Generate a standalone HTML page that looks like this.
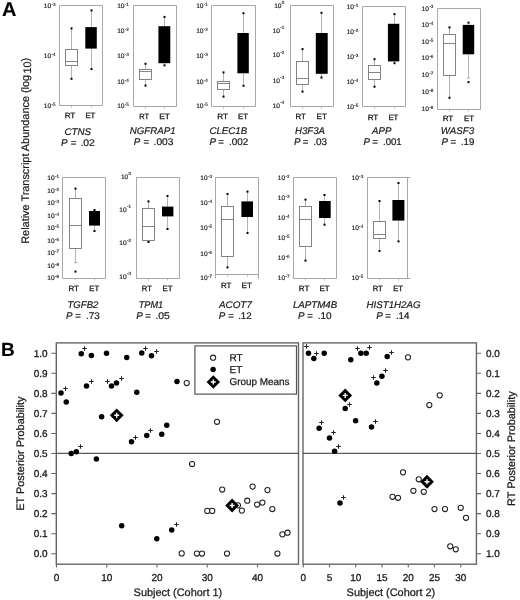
<!DOCTYPE html>
<html><head><meta charset="utf-8"><title>Figure</title>
<style>
html,body{margin:0;padding:0;background:#fff;}
body{width:520px;height:600px;overflow:hidden;}
svg{display:block;font-family:"Liberation Sans", sans-serif;text-rendering:geometricPrecision;filter:blur(0.45px);}
</style></head>
<body>
<svg width="520" height="600" viewBox="0 0 520 600">
<rect width="520" height="600" fill="#fff"/>
<path d="M59.50 105.50V5.50H102.50M102.50 5.50V105.50M59.50 105.50H102.50" fill="none" stroke="#a8a8a8" stroke-width="1"/>
<text x="43.77" y="7.90" font-size="6.6" text-anchor="start" fill="#1a1a1a" stroke="#1a1a1a" stroke-width="0.18">10</text>
<text x="51.41" y="5.80" font-size="4.6" text-anchor="start" fill="#1a1a1a" stroke="#1a1a1a" stroke-width="0.12">-3</text>
<text x="43.77" y="58.30" font-size="6.6" text-anchor="start" fill="#1a1a1a" stroke="#1a1a1a" stroke-width="0.18">10</text>
<text x="51.41" y="56.20" font-size="4.6" text-anchor="start" fill="#1a1a1a" stroke="#1a1a1a" stroke-width="0.12">-4</text>
<text x="43.77" y="108.30" font-size="6.6" text-anchor="start" fill="#1a1a1a" stroke="#1a1a1a" stroke-width="0.18">10</text>
<text x="51.41" y="106.20" font-size="4.6" text-anchor="start" fill="#1a1a1a" stroke="#1a1a1a" stroke-width="0.12">-5</text>
<path d="M71.50 105.50v2" stroke="#a8a8a8" stroke-width="0.8"/>
<path d="M91.50 105.50v2" stroke="#a8a8a8" stroke-width="0.8"/>
<path d="M71.50 28.40V49.50M71.50 65.50V78.80" stroke="#999999" stroke-width="0.75"/>
<rect x="65.50" y="49.50" width="12.00" height="16.00" fill="#fff" stroke="#777777" stroke-width="0.9"/>
<path d="M65.50 61.50H77.50" stroke="#777777" stroke-width="0.9"/>
<rect x="70.50" y="27.40" width="2.0" height="2.0" fill="#000"/>
<rect x="70.50" y="77.80" width="2.0" height="2.0" fill="#000"/>
<path d="M91.50 10.40V27.10M91.50 48.60V69.10" stroke="#999999" stroke-width="0.75"/>
<rect x="85.30" y="27.10" width="11.50" height="21.50" fill="#000"/>
<rect x="90.50" y="9.40" width="2.0" height="2.0" fill="#000"/>
<rect x="90.50" y="68.10" width="2.0" height="2.0" fill="#000"/>
<text x="64.70" y="118.20" font-size="7.6" text-anchor="start" fill="#1a1a1a" stroke="#1a1a1a" stroke-width="0.3" textLength="10.60" lengthAdjust="spacingAndGlyphs">RT</text>
<text x="85.40" y="118.20" font-size="7.6" text-anchor="start" fill="#1a1a1a" stroke="#1a1a1a" stroke-width="0.3" textLength="9.90" lengthAdjust="spacingAndGlyphs">ET</text>
<text x="64.40" y="135.30" font-size="9.7" font-style="italic" text-anchor="start" fill="#1a1a1a" stroke="#1a1a1a" stroke-width="0.2" textLength="26.60" lengthAdjust="spacingAndGlyphs">CTNS</text>
<text x="60.90" y="146.30" font-size="9.7" font-style="italic" text-anchor="start" fill="#1a1a1a" stroke="#1a1a1a" stroke-width="0.2">P</text>
<text x="70.80" y="146.30" font-size="9.7" text-anchor="start" fill="#1a1a1a" stroke="#1a1a1a" stroke-width="0.2">=</text>
<text x="80.40" y="146.30" font-size="9.7" text-anchor="start" fill="#1a1a1a" stroke="#1a1a1a" stroke-width="0.2" textLength="14.40" lengthAdjust="spacingAndGlyphs">.02</text>
<path d="M133.50 106.50V5.50H176.50M176.50 5.50V106.50M133.50 106.50H176.50" fill="none" stroke="#a8a8a8" stroke-width="1"/>
<text x="117.17" y="7.90" font-size="6.6" text-anchor="start" fill="#1a1a1a" stroke="#1a1a1a" stroke-width="0.18">10</text>
<text x="124.81" y="5.80" font-size="4.6" text-anchor="start" fill="#1a1a1a" stroke="#1a1a1a" stroke-width="0.12">-1</text>
<text x="117.17" y="32.60" font-size="6.6" text-anchor="start" fill="#1a1a1a" stroke="#1a1a1a" stroke-width="0.18">10</text>
<text x="124.81" y="30.50" font-size="4.6" text-anchor="start" fill="#1a1a1a" stroke="#1a1a1a" stroke-width="0.12">-2</text>
<text x="117.17" y="58.30" font-size="6.6" text-anchor="start" fill="#1a1a1a" stroke="#1a1a1a" stroke-width="0.18">10</text>
<text x="124.81" y="56.20" font-size="4.6" text-anchor="start" fill="#1a1a1a" stroke="#1a1a1a" stroke-width="0.12">-3</text>
<text x="117.17" y="83.90" font-size="6.6" text-anchor="start" fill="#1a1a1a" stroke="#1a1a1a" stroke-width="0.18">10</text>
<text x="124.81" y="81.80" font-size="4.6" text-anchor="start" fill="#1a1a1a" stroke="#1a1a1a" stroke-width="0.12">-4</text>
<text x="117.17" y="108.40" font-size="6.6" text-anchor="start" fill="#1a1a1a" stroke="#1a1a1a" stroke-width="0.18">10</text>
<text x="124.81" y="106.30" font-size="4.6" text-anchor="start" fill="#1a1a1a" stroke="#1a1a1a" stroke-width="0.12">-5</text>
<path d="M145.50 106.50v2" stroke="#a8a8a8" stroke-width="0.8"/>
<path d="M164.50 106.50v2" stroke="#a8a8a8" stroke-width="0.8"/>
<path d="M145.50 63.80V69.50M145.50 79.50V85.60" stroke="#999999" stroke-width="0.75"/>
<rect x="139.50" y="69.50" width="12.00" height="10.00" fill="#fff" stroke="#777777" stroke-width="0.9"/>
<path d="M139.50 71.50H151.50" stroke="#777777" stroke-width="0.9"/>
<rect x="144.50" y="62.80" width="2.0" height="2.0" fill="#000"/>
<rect x="144.50" y="84.60" width="2.0" height="2.0" fill="#000"/>
<path d="M164.50 16.90V26.20M164.50 63.20V65.40" stroke="#999999" stroke-width="0.75"/>
<rect x="158.40" y="26.20" width="11.90" height="37.00" fill="#000"/>
<rect x="163.50" y="15.90" width="2.0" height="2.0" fill="#000"/>
<rect x="163.50" y="64.40" width="2.0" height="2.0" fill="#000"/>
<text x="139.30" y="118.80" font-size="7.6" text-anchor="start" fill="#1a1a1a" stroke="#1a1a1a" stroke-width="0.3" textLength="9.80" lengthAdjust="spacingAndGlyphs">RT</text>
<text x="159.20" y="118.80" font-size="7.6" text-anchor="start" fill="#1a1a1a" stroke="#1a1a1a" stroke-width="0.3" textLength="10.70" lengthAdjust="spacingAndGlyphs">ET</text>
<text x="129.80" y="133.60" font-size="9.7" font-style="italic" text-anchor="start" fill="#1a1a1a" stroke="#1a1a1a" stroke-width="0.2" textLength="45.80" lengthAdjust="spacingAndGlyphs">NGFRAP1</text>
<text x="133.70" y="144.80" font-size="9.7" font-style="italic" text-anchor="start" fill="#1a1a1a" stroke="#1a1a1a" stroke-width="0.2">P</text>
<text x="143.50" y="144.80" font-size="9.7" text-anchor="start" fill="#1a1a1a" stroke="#1a1a1a" stroke-width="0.2">=</text>
<text x="153.60" y="144.80" font-size="9.7" text-anchor="start" fill="#1a1a1a" stroke="#1a1a1a" stroke-width="0.2" textLength="19.70" lengthAdjust="spacingAndGlyphs">.003</text>
<path d="M211.50 106.50V5.50H255.50M255.50 5.50V106.50M211.50 106.50H255.50" fill="none" stroke="#a8a8a8" stroke-width="1"/>
<text x="196.17" y="7.90" font-size="6.6" text-anchor="start" fill="#1a1a1a" stroke="#1a1a1a" stroke-width="0.18">10</text>
<text x="203.81" y="5.80" font-size="4.6" text-anchor="start" fill="#1a1a1a" stroke="#1a1a1a" stroke-width="0.12">-1</text>
<text x="196.17" y="33.20" font-size="6.6" text-anchor="start" fill="#1a1a1a" stroke="#1a1a1a" stroke-width="0.18">10</text>
<text x="203.81" y="31.10" font-size="4.6" text-anchor="start" fill="#1a1a1a" stroke="#1a1a1a" stroke-width="0.12">-2</text>
<text x="196.17" y="58.30" font-size="6.6" text-anchor="start" fill="#1a1a1a" stroke="#1a1a1a" stroke-width="0.18">10</text>
<text x="203.81" y="56.20" font-size="4.6" text-anchor="start" fill="#1a1a1a" stroke="#1a1a1a" stroke-width="0.12">-3</text>
<text x="196.17" y="83.90" font-size="6.6" text-anchor="start" fill="#1a1a1a" stroke="#1a1a1a" stroke-width="0.18">10</text>
<text x="203.81" y="81.80" font-size="4.6" text-anchor="start" fill="#1a1a1a" stroke="#1a1a1a" stroke-width="0.12">-4</text>
<text x="196.17" y="108.40" font-size="6.6" text-anchor="start" fill="#1a1a1a" stroke="#1a1a1a" stroke-width="0.18">10</text>
<text x="203.81" y="106.30" font-size="4.6" text-anchor="start" fill="#1a1a1a" stroke="#1a1a1a" stroke-width="0.12">-5</text>
<path d="M223.50 106.50v2" stroke="#a8a8a8" stroke-width="0.8"/>
<path d="M243.50 106.50v2" stroke="#a8a8a8" stroke-width="0.8"/>
<path d="M223.50 72.40V81.50M223.50 89.50V96.60" stroke="#999999" stroke-width="0.75"/>
<rect x="217.50" y="81.50" width="12.00" height="8.00" fill="#fff" stroke="#777777" stroke-width="0.9"/>
<path d="M217.50 83.50H229.50" stroke="#777777" stroke-width="0.9"/>
<rect x="222.50" y="71.40" width="2.0" height="2.0" fill="#000"/>
<rect x="222.50" y="95.60" width="2.0" height="2.0" fill="#000"/>
<path d="M243.50 13.20V33.00M243.50 73.30V85.80" stroke="#999999" stroke-width="0.75"/>
<rect x="237.40" y="33.00" width="11.40" height="40.30" fill="#000"/>
<rect x="242.50" y="12.20" width="2.0" height="2.0" fill="#000"/>
<rect x="242.50" y="84.80" width="2.0" height="2.0" fill="#000"/>
<text x="217.20" y="118.80" font-size="7.6" text-anchor="start" fill="#1a1a1a" stroke="#1a1a1a" stroke-width="0.3" textLength="10.70" lengthAdjust="spacingAndGlyphs">RT</text>
<text x="238.00" y="118.80" font-size="7.6" text-anchor="start" fill="#1a1a1a" stroke="#1a1a1a" stroke-width="0.3" textLength="10.10" lengthAdjust="spacingAndGlyphs">ET</text>
<text x="209.40" y="133.60" font-size="9.7" font-style="italic" text-anchor="start" fill="#1a1a1a" stroke="#1a1a1a" stroke-width="0.2" textLength="37.90" lengthAdjust="spacingAndGlyphs">CLEC1B</text>
<text x="209.50" y="144.80" font-size="9.7" font-style="italic" text-anchor="start" fill="#1a1a1a" stroke="#1a1a1a" stroke-width="0.2">P</text>
<text x="218.30" y="144.80" font-size="9.7" text-anchor="start" fill="#1a1a1a" stroke="#1a1a1a" stroke-width="0.2">=</text>
<text x="229.00" y="144.80" font-size="9.7" text-anchor="start" fill="#1a1a1a" stroke="#1a1a1a" stroke-width="0.2" textLength="19.30" lengthAdjust="spacingAndGlyphs">.002</text>
<path d="M290.50 106.50V5.50H333.50M333.50 5.50V106.50M290.50 106.50H333.50" fill="none" stroke="#a8a8a8" stroke-width="1"/>
<text x="274.20" y="7.90" font-size="6.6" text-anchor="start" fill="#1a1a1a" stroke="#1a1a1a" stroke-width="0.18">10</text>
<text x="281.84" y="4.20" font-size="4.6" text-anchor="start" fill="#1a1a1a" stroke="#1a1a1a" stroke-width="0.12">0</text>
<text x="272.67" y="32.60" font-size="6.6" text-anchor="start" fill="#1a1a1a" stroke="#1a1a1a" stroke-width="0.18">10</text>
<text x="280.31" y="28.90" font-size="4.6" text-anchor="start" fill="#1a1a1a" stroke="#1a1a1a" stroke-width="0.12">-1</text>
<text x="272.67" y="57.40" font-size="6.6" text-anchor="start" fill="#1a1a1a" stroke="#1a1a1a" stroke-width="0.18">10</text>
<text x="280.31" y="53.70" font-size="4.6" text-anchor="start" fill="#1a1a1a" stroke="#1a1a1a" stroke-width="0.12">-2</text>
<text x="272.67" y="83.00" font-size="6.6" text-anchor="start" fill="#1a1a1a" stroke="#1a1a1a" stroke-width="0.18">10</text>
<text x="280.31" y="79.30" font-size="4.6" text-anchor="start" fill="#1a1a1a" stroke="#1a1a1a" stroke-width="0.12">-3</text>
<text x="272.67" y="107.80" font-size="6.6" text-anchor="start" fill="#1a1a1a" stroke="#1a1a1a" stroke-width="0.18">10</text>
<text x="280.31" y="104.10" font-size="4.6" text-anchor="start" fill="#1a1a1a" stroke="#1a1a1a" stroke-width="0.12">-4</text>
<path d="M302.50 106.50v2" stroke="#a8a8a8" stroke-width="0.8"/>
<path d="M321.50 106.50v2" stroke="#a8a8a8" stroke-width="0.8"/>
<path d="M302.50 49.10V61.50M302.50 84.50V91.60" stroke="#999999" stroke-width="0.75"/>
<rect x="296.50" y="61.50" width="12.00" height="23.00" fill="#fff" stroke="#777777" stroke-width="0.9"/>
<path d="M296.50 78.50H308.50" stroke="#777777" stroke-width="0.9"/>
<rect x="301.50" y="48.10" width="2.0" height="2.0" fill="#000"/>
<rect x="301.50" y="90.60" width="2.0" height="2.0" fill="#000"/>
<path d="M321.50 12.80V33.00M321.50 73.80V77.50" stroke="#999999" stroke-width="0.75"/>
<rect x="315.80" y="33.00" width="11.90" height="40.80" fill="#000"/>
<rect x="320.50" y="11.80" width="2.0" height="2.0" fill="#000"/>
<rect x="320.50" y="76.50" width="2.0" height="2.0" fill="#000"/>
<text x="295.60" y="118.70" font-size="7.6" text-anchor="start" fill="#1a1a1a" stroke="#1a1a1a" stroke-width="0.3" textLength="10.30" lengthAdjust="spacingAndGlyphs">RT</text>
<text x="316.60" y="118.70" font-size="7.6" text-anchor="start" fill="#1a1a1a" stroke="#1a1a1a" stroke-width="0.3" textLength="10.40" lengthAdjust="spacingAndGlyphs">ET</text>
<text x="295.10" y="133.60" font-size="9.7" font-style="italic" text-anchor="start" fill="#1a1a1a" stroke="#1a1a1a" stroke-width="0.2" textLength="29.90" lengthAdjust="spacingAndGlyphs">H3F3A</text>
<text x="294.10" y="144.80" font-size="9.7" font-style="italic" text-anchor="start" fill="#1a1a1a" stroke="#1a1a1a" stroke-width="0.2">P</text>
<text x="302.80" y="144.80" font-size="9.7" text-anchor="start" fill="#1a1a1a" stroke="#1a1a1a" stroke-width="0.2">=</text>
<text x="313.20" y="144.80" font-size="9.7" text-anchor="start" fill="#1a1a1a" stroke="#1a1a1a" stroke-width="0.2" textLength="13.90" lengthAdjust="spacingAndGlyphs">.03</text>
<path d="M362.50 106.50V6.50H405.50M405.50 6.50V106.50M362.50 106.50H405.50" fill="none" stroke="#a8a8a8" stroke-width="1"/>
<text x="346.67" y="8.80" font-size="6.6" text-anchor="start" fill="#1a1a1a" stroke="#1a1a1a" stroke-width="0.18">10</text>
<text x="354.31" y="6.70" font-size="4.6" text-anchor="start" fill="#1a1a1a" stroke="#1a1a1a" stroke-width="0.12">-1</text>
<text x="346.67" y="33.60" font-size="6.6" text-anchor="start" fill="#1a1a1a" stroke="#1a1a1a" stroke-width="0.18">10</text>
<text x="354.31" y="31.50" font-size="4.6" text-anchor="start" fill="#1a1a1a" stroke="#1a1a1a" stroke-width="0.12">-2</text>
<text x="346.67" y="58.80" font-size="6.6" text-anchor="start" fill="#1a1a1a" stroke="#1a1a1a" stroke-width="0.18">10</text>
<text x="354.31" y="56.70" font-size="4.6" text-anchor="start" fill="#1a1a1a" stroke="#1a1a1a" stroke-width="0.12">-3</text>
<text x="346.67" y="84.30" font-size="6.6" text-anchor="start" fill="#1a1a1a" stroke="#1a1a1a" stroke-width="0.18">10</text>
<text x="354.31" y="82.20" font-size="4.6" text-anchor="start" fill="#1a1a1a" stroke="#1a1a1a" stroke-width="0.12">-4</text>
<text x="346.67" y="108.90" font-size="6.6" text-anchor="start" fill="#1a1a1a" stroke="#1a1a1a" stroke-width="0.18">10</text>
<text x="354.31" y="106.80" font-size="4.6" text-anchor="start" fill="#1a1a1a" stroke="#1a1a1a" stroke-width="0.12">-5</text>
<path d="M374.50 106.50v2" stroke="#a8a8a8" stroke-width="0.8"/>
<path d="M394.50 106.50v2" stroke="#a8a8a8" stroke-width="0.8"/>
<path d="M374.50 59.20V65.50M374.50 79.50V86.70" stroke="#999999" stroke-width="0.75"/>
<rect x="368.50" y="65.50" width="12.00" height="14.00" fill="#fff" stroke="#777777" stroke-width="0.9"/>
<path d="M368.50 72.50H380.50" stroke="#777777" stroke-width="0.9"/>
<rect x="373.50" y="58.20" width="2.0" height="2.0" fill="#000"/>
<rect x="373.50" y="85.70" width="2.0" height="2.0" fill="#000"/>
<path d="M394.50 14.10V23.80M394.50 61.40V63.20" stroke="#999999" stroke-width="0.75"/>
<rect x="387.90" y="23.80" width="11.40" height="37.60" fill="#000"/>
<rect x="393.50" y="13.10" width="2.0" height="2.0" fill="#000"/>
<rect x="393.50" y="62.20" width="2.0" height="2.0" fill="#000"/>
<text x="367.70" y="119.50" font-size="7.6" text-anchor="start" fill="#1a1a1a" stroke="#1a1a1a" stroke-width="0.3" textLength="10.60" lengthAdjust="spacingAndGlyphs">RT</text>
<text x="388.45" y="119.50" font-size="7.6" text-anchor="start" fill="#1a1a1a" stroke="#1a1a1a" stroke-width="0.3" textLength="9.85" lengthAdjust="spacingAndGlyphs">ET</text>
<text x="372.10" y="133.60" font-size="9.7" font-style="italic" text-anchor="start" fill="#1a1a1a" stroke="#1a1a1a" stroke-width="0.2" textLength="19.20" lengthAdjust="spacingAndGlyphs">APP</text>
<text x="363.50" y="144.80" font-size="9.7" font-style="italic" text-anchor="start" fill="#1a1a1a" stroke="#1a1a1a" stroke-width="0.2">P</text>
<text x="372.30" y="144.80" font-size="9.7" text-anchor="start" fill="#1a1a1a" stroke="#1a1a1a" stroke-width="0.2">=</text>
<text x="383.00" y="144.80" font-size="9.7" text-anchor="start" fill="#1a1a1a" stroke="#1a1a1a" stroke-width="0.2" textLength="18.70" lengthAdjust="spacingAndGlyphs">.001</text>
<path d="M437.50 109.50V8.50H480.50M480.50 8.50V109.50M437.50 109.50H480.50" fill="none" stroke="#a8a8a8" stroke-width="1"/>
<text x="421.57" y="10.50" font-size="6.6" text-anchor="start" fill="#1a1a1a" stroke="#1a1a1a" stroke-width="0.18">10</text>
<text x="429.21" y="8.40" font-size="4.6" text-anchor="start" fill="#1a1a1a" stroke="#1a1a1a" stroke-width="0.12">-3</text>
<text x="421.57" y="26.90" font-size="6.6" text-anchor="start" fill="#1a1a1a" stroke="#1a1a1a" stroke-width="0.18">10</text>
<text x="429.21" y="24.80" font-size="4.6" text-anchor="start" fill="#1a1a1a" stroke="#1a1a1a" stroke-width="0.12">-4</text>
<text x="421.57" y="43.60" font-size="6.6" text-anchor="start" fill="#1a1a1a" stroke="#1a1a1a" stroke-width="0.18">10</text>
<text x="429.21" y="41.50" font-size="4.6" text-anchor="start" fill="#1a1a1a" stroke="#1a1a1a" stroke-width="0.12">-5</text>
<text x="421.57" y="60.30" font-size="6.6" text-anchor="start" fill="#1a1a1a" stroke="#1a1a1a" stroke-width="0.18">10</text>
<text x="429.21" y="58.20" font-size="4.6" text-anchor="start" fill="#1a1a1a" stroke="#1a1a1a" stroke-width="0.12">-6</text>
<text x="421.57" y="77.20" font-size="6.6" text-anchor="start" fill="#1a1a1a" stroke="#1a1a1a" stroke-width="0.18">10</text>
<text x="429.21" y="75.10" font-size="4.6" text-anchor="start" fill="#1a1a1a" stroke="#1a1a1a" stroke-width="0.12">-7</text>
<text x="421.57" y="94.40" font-size="6.6" text-anchor="start" fill="#1a1a1a" stroke="#1a1a1a" stroke-width="0.18">10</text>
<text x="429.21" y="92.30" font-size="4.6" text-anchor="start" fill="#1a1a1a" stroke="#1a1a1a" stroke-width="0.12">-8</text>
<text x="421.57" y="111.40" font-size="6.6" text-anchor="start" fill="#1a1a1a" stroke="#1a1a1a" stroke-width="0.18">10</text>
<text x="429.21" y="109.30" font-size="4.6" text-anchor="start" fill="#1a1a1a" stroke="#1a1a1a" stroke-width="0.12">-9</text>
<path d="M449.50 109.50v2" stroke="#a8a8a8" stroke-width="0.8"/>
<path d="M468.50 109.50v2" stroke="#a8a8a8" stroke-width="0.8"/>
<path d="M449.50 27.40V34.50M449.50 75.50V97.80" stroke="#999999" stroke-width="0.75"/>
<rect x="443.50" y="34.50" width="12.00" height="41.00" fill="#fff" stroke="#777777" stroke-width="0.9"/>
<path d="M443.50 43.50H455.50" stroke="#777777" stroke-width="0.9"/>
<rect x="448.50" y="26.40" width="2.0" height="2.0" fill="#000"/>
<rect x="448.50" y="96.80" width="2.0" height="2.0" fill="#000"/>
<path d="M468.50 22.60V24.90M468.50 54.30V78.20" stroke="#999999" stroke-width="0.75"/>
<rect x="462.70" y="24.90" width="11.50" height="29.40" fill="#000"/>
<path d="M467.00 78.20h3" stroke="#999999" stroke-width="0.8"/>
<rect x="467.50" y="21.60" width="2.0" height="2.0" fill="#000"/>
<rect x="467.50" y="81.10" width="2.0" height="2.0" fill="#000"/>
<text x="442.70" y="121.25" font-size="7.6" text-anchor="start" fill="#1a1a1a" stroke="#1a1a1a" stroke-width="0.3" textLength="10.60" lengthAdjust="spacingAndGlyphs">RT</text>
<text x="463.95" y="121.25" font-size="7.6" text-anchor="start" fill="#1a1a1a" stroke="#1a1a1a" stroke-width="0.3" textLength="10.10" lengthAdjust="spacingAndGlyphs">ET</text>
<text x="440.80" y="133.60" font-size="9.7" font-style="italic" text-anchor="start" fill="#1a1a1a" stroke="#1a1a1a" stroke-width="0.2" textLength="33.40" lengthAdjust="spacingAndGlyphs">WASF3</text>
<text x="441.40" y="144.80" font-size="9.7" font-style="italic" text-anchor="start" fill="#1a1a1a" stroke="#1a1a1a" stroke-width="0.2">P</text>
<text x="450.50" y="144.80" font-size="9.7" text-anchor="start" fill="#1a1a1a" stroke="#1a1a1a" stroke-width="0.2">=</text>
<text x="460.90" y="144.80" font-size="9.7" text-anchor="start" fill="#1a1a1a" stroke="#1a1a1a" stroke-width="0.2" textLength="13.50" lengthAdjust="spacingAndGlyphs">.19</text>
<path d="M62.50 278.50V177.50H105.50M105.50 177.50V278.50M62.50 278.50H105.50" fill="none" stroke="#a8a8a8" stroke-width="1"/>
<text x="47.27" y="180.40" font-size="6.6" text-anchor="start" fill="#1a1a1a" stroke="#1a1a1a" stroke-width="0.18">10</text>
<text x="54.91" y="178.30" font-size="4.6" text-anchor="start" fill="#1a1a1a" stroke="#1a1a1a" stroke-width="0.12">-1</text>
<text x="47.27" y="192.90" font-size="6.6" text-anchor="start" fill="#1a1a1a" stroke="#1a1a1a" stroke-width="0.18">10</text>
<text x="54.91" y="190.80" font-size="4.6" text-anchor="start" fill="#1a1a1a" stroke="#1a1a1a" stroke-width="0.12">-2</text>
<text x="47.27" y="205.40" font-size="6.6" text-anchor="start" fill="#1a1a1a" stroke="#1a1a1a" stroke-width="0.18">10</text>
<text x="54.91" y="203.30" font-size="4.6" text-anchor="start" fill="#1a1a1a" stroke="#1a1a1a" stroke-width="0.12">-3</text>
<text x="47.27" y="217.90" font-size="6.6" text-anchor="start" fill="#1a1a1a" stroke="#1a1a1a" stroke-width="0.18">10</text>
<text x="54.91" y="215.80" font-size="4.6" text-anchor="start" fill="#1a1a1a" stroke="#1a1a1a" stroke-width="0.12">-4</text>
<text x="47.27" y="230.40" font-size="6.6" text-anchor="start" fill="#1a1a1a" stroke="#1a1a1a" stroke-width="0.18">10</text>
<text x="54.91" y="228.30" font-size="4.6" text-anchor="start" fill="#1a1a1a" stroke="#1a1a1a" stroke-width="0.12">-5</text>
<text x="47.27" y="242.90" font-size="6.6" text-anchor="start" fill="#1a1a1a" stroke="#1a1a1a" stroke-width="0.18">10</text>
<text x="54.91" y="240.80" font-size="4.6" text-anchor="start" fill="#1a1a1a" stroke="#1a1a1a" stroke-width="0.12">-6</text>
<text x="47.27" y="255.40" font-size="6.6" text-anchor="start" fill="#1a1a1a" stroke="#1a1a1a" stroke-width="0.18">10</text>
<text x="54.91" y="253.30" font-size="4.6" text-anchor="start" fill="#1a1a1a" stroke="#1a1a1a" stroke-width="0.12">-7</text>
<text x="47.27" y="267.90" font-size="6.6" text-anchor="start" fill="#1a1a1a" stroke="#1a1a1a" stroke-width="0.18">10</text>
<text x="54.91" y="265.80" font-size="4.6" text-anchor="start" fill="#1a1a1a" stroke="#1a1a1a" stroke-width="0.12">-8</text>
<text x="47.27" y="280.40" font-size="6.6" text-anchor="start" fill="#1a1a1a" stroke="#1a1a1a" stroke-width="0.18">10</text>
<text x="54.91" y="278.30" font-size="4.6" text-anchor="start" fill="#1a1a1a" stroke="#1a1a1a" stroke-width="0.12">-9</text>
<path d="M75.50 278.50v2" stroke="#a8a8a8" stroke-width="0.8"/>
<path d="M94.50 278.50v2" stroke="#a8a8a8" stroke-width="0.8"/>
<path d="M75.50 188.60V198.50M75.50 248.50V262.60" stroke="#999999" stroke-width="0.75"/>
<rect x="69.50" y="198.50" width="12.00" height="50.00" fill="#fff" stroke="#777777" stroke-width="0.9"/>
<path d="M69.50 225.50H81.50" stroke="#777777" stroke-width="0.9"/>
<path d="M74.00 262.60h3" stroke="#999999" stroke-width="0.8"/>
<rect x="74.50" y="187.60" width="2.0" height="2.0" fill="#000"/>
<rect x="74.50" y="270.60" width="2.0" height="2.0" fill="#000"/>
<path d="M94.50 210.00V211.00M94.50 225.60V231.00" stroke="#999999" stroke-width="0.75"/>
<rect x="89.00" y="211.00" width="11.00" height="14.60" fill="#000"/>
<rect x="93.50" y="209.00" width="2.0" height="2.0" fill="#000"/>
<rect x="93.50" y="230.00" width="2.0" height="2.0" fill="#000"/>
<text x="68.50" y="291.00" font-size="7.6" text-anchor="start" fill="#1a1a1a" stroke="#1a1a1a" stroke-width="0.3" textLength="10.50" lengthAdjust="spacingAndGlyphs">RT</text>
<text x="89.30" y="291.00" font-size="7.6" text-anchor="start" fill="#1a1a1a" stroke="#1a1a1a" stroke-width="0.3" textLength="9.80" lengthAdjust="spacingAndGlyphs">ET</text>
<text x="67.50" y="308.00" font-size="9.7" font-style="italic" text-anchor="start" fill="#1a1a1a" stroke="#1a1a1a" stroke-width="0.2" textLength="30.90" lengthAdjust="spacingAndGlyphs">TGFB2</text>
<text x="65.90" y="319.00" font-size="9.7" font-style="italic" text-anchor="start" fill="#1a1a1a" stroke="#1a1a1a" stroke-width="0.2">P</text>
<text x="75.30" y="319.00" font-size="9.7" text-anchor="start" fill="#1a1a1a" stroke="#1a1a1a" stroke-width="0.2">=</text>
<text x="85.90" y="319.00" font-size="9.7" text-anchor="start" fill="#1a1a1a" stroke="#1a1a1a" stroke-width="0.2" textLength="13.90" lengthAdjust="spacingAndGlyphs">.73</text>
<path d="M136.50 278.50V177.50H179.50M179.50 177.50V278.50M136.50 278.50H179.50" fill="none" stroke="#a8a8a8" stroke-width="1"/>
<text x="120.90" y="178.90" font-size="6.6" text-anchor="start" fill="#1a1a1a" stroke="#1a1a1a" stroke-width="0.18">10</text>
<text x="128.54" y="175.20" font-size="4.6" text-anchor="start" fill="#1a1a1a" stroke="#1a1a1a" stroke-width="0.12">0</text>
<text x="119.37" y="211.90" font-size="6.6" text-anchor="start" fill="#1a1a1a" stroke="#1a1a1a" stroke-width="0.18">10</text>
<text x="127.01" y="208.20" font-size="4.6" text-anchor="start" fill="#1a1a1a" stroke="#1a1a1a" stroke-width="0.12">-1</text>
<text x="119.37" y="245.40" font-size="6.6" text-anchor="start" fill="#1a1a1a" stroke="#1a1a1a" stroke-width="0.18">10</text>
<text x="127.01" y="241.70" font-size="4.6" text-anchor="start" fill="#1a1a1a" stroke="#1a1a1a" stroke-width="0.12">-2</text>
<text x="119.37" y="278.90" font-size="6.6" text-anchor="start" fill="#1a1a1a" stroke="#1a1a1a" stroke-width="0.18">10</text>
<text x="127.01" y="275.20" font-size="4.6" text-anchor="start" fill="#1a1a1a" stroke="#1a1a1a" stroke-width="0.12">-3</text>
<path d="M148.50 278.50v2" stroke="#a8a8a8" stroke-width="0.8"/>
<path d="M167.50 278.50v2" stroke="#a8a8a8" stroke-width="0.8"/>
<path d="M148.50 201.40V208.50M148.50 240.50V242.00" stroke="#999999" stroke-width="0.75"/>
<rect x="142.50" y="208.50" width="12.00" height="32.00" fill="#fff" stroke="#777777" stroke-width="0.9"/>
<path d="M142.50 226.50H154.50" stroke="#777777" stroke-width="0.9"/>
<rect x="147.50" y="200.40" width="2.0" height="2.0" fill="#000"/>
<rect x="147.50" y="241.00" width="2.0" height="2.0" fill="#000"/>
<path d="M167.50 196.00V206.60M167.50 216.40V229.00" stroke="#999999" stroke-width="0.75"/>
<rect x="162.00" y="206.60" width="11.40" height="9.80" fill="#000"/>
<rect x="166.50" y="195.00" width="2.0" height="2.0" fill="#000"/>
<rect x="166.50" y="228.00" width="2.0" height="2.0" fill="#000"/>
<text x="141.80" y="290.60" font-size="7.6" text-anchor="start" fill="#1a1a1a" stroke="#1a1a1a" stroke-width="0.3" textLength="10.00" lengthAdjust="spacingAndGlyphs">RT</text>
<text x="162.50" y="290.60" font-size="7.6" text-anchor="start" fill="#1a1a1a" stroke="#1a1a1a" stroke-width="0.3" textLength="10.10" lengthAdjust="spacingAndGlyphs">ET</text>
<text x="138.70" y="307.70" font-size="9.7" font-style="italic" text-anchor="start" fill="#1a1a1a" stroke="#1a1a1a" stroke-width="0.2" textLength="24.50" lengthAdjust="spacingAndGlyphs">TPM1</text>
<text x="136.20" y="319.00" font-size="9.7" font-style="italic" text-anchor="start" fill="#1a1a1a" stroke="#1a1a1a" stroke-width="0.2">P</text>
<text x="145.30" y="319.00" font-size="9.7" text-anchor="start" fill="#1a1a1a" stroke="#1a1a1a" stroke-width="0.2">=</text>
<text x="155.40" y="319.00" font-size="9.7" text-anchor="start" fill="#1a1a1a" stroke="#1a1a1a" stroke-width="0.2" textLength="14.40" lengthAdjust="spacingAndGlyphs">.05</text>
<path d="M215.50 278.50V177.50H258.50M258.50 177.50V278.50M215.50 274.50H258.50" fill="none" stroke="#a8a8a8" stroke-width="1"/>
<text x="200.27" y="180.40" font-size="6.6" text-anchor="start" fill="#1a1a1a" stroke="#1a1a1a" stroke-width="0.18">10</text>
<text x="207.91" y="178.30" font-size="4.6" text-anchor="start" fill="#1a1a1a" stroke="#1a1a1a" stroke-width="0.12">-3</text>
<text x="200.27" y="205.40" font-size="6.6" text-anchor="start" fill="#1a1a1a" stroke="#1a1a1a" stroke-width="0.18">10</text>
<text x="207.91" y="203.30" font-size="4.6" text-anchor="start" fill="#1a1a1a" stroke="#1a1a1a" stroke-width="0.12">-4</text>
<text x="200.27" y="230.40" font-size="6.6" text-anchor="start" fill="#1a1a1a" stroke="#1a1a1a" stroke-width="0.18">10</text>
<text x="207.91" y="228.30" font-size="4.6" text-anchor="start" fill="#1a1a1a" stroke="#1a1a1a" stroke-width="0.12">-5</text>
<text x="200.27" y="256.00" font-size="6.6" text-anchor="start" fill="#1a1a1a" stroke="#1a1a1a" stroke-width="0.18">10</text>
<text x="207.91" y="253.90" font-size="4.6" text-anchor="start" fill="#1a1a1a" stroke="#1a1a1a" stroke-width="0.12">-6</text>
<text x="200.27" y="280.40" font-size="6.6" text-anchor="start" fill="#1a1a1a" stroke="#1a1a1a" stroke-width="0.18">10</text>
<text x="207.91" y="278.30" font-size="4.6" text-anchor="start" fill="#1a1a1a" stroke="#1a1a1a" stroke-width="0.12">-7</text>
<path d="M227.50 274.50v2" stroke="#a8a8a8" stroke-width="0.8"/>
<path d="M247.50 274.50v2" stroke="#a8a8a8" stroke-width="0.8"/>
<path d="M227.50 194.00V206.50M227.50 256.50V267.40" stroke="#999999" stroke-width="0.75"/>
<rect x="221.50" y="206.50" width="12.00" height="50.00" fill="#fff" stroke="#777777" stroke-width="0.9"/>
<path d="M221.50 219.50H233.50" stroke="#777777" stroke-width="0.9"/>
<rect x="226.50" y="193.00" width="2.0" height="2.0" fill="#000"/>
<rect x="226.50" y="266.40" width="2.0" height="2.0" fill="#000"/>
<path d="M247.50 191.60V201.40M247.50 217.00V233.00" stroke="#999999" stroke-width="0.75"/>
<rect x="241.40" y="201.40" width="11.60" height="15.60" fill="#000"/>
<rect x="246.50" y="190.60" width="2.0" height="2.0" fill="#000"/>
<rect x="246.50" y="232.00" width="2.0" height="2.0" fill="#000"/>
<text x="220.90" y="287.50" font-size="7.6" text-anchor="start" fill="#1a1a1a" stroke="#1a1a1a" stroke-width="0.3" textLength="10.40" lengthAdjust="spacingAndGlyphs">RT</text>
<text x="241.60" y="287.50" font-size="7.6" text-anchor="start" fill="#1a1a1a" stroke="#1a1a1a" stroke-width="0.3" textLength="10.40" lengthAdjust="spacingAndGlyphs">ET</text>
<text x="219.00" y="308.00" font-size="9.7" font-style="italic" text-anchor="start" fill="#1a1a1a" stroke="#1a1a1a" stroke-width="0.2" textLength="32.90" lengthAdjust="spacingAndGlyphs">ACOT7</text>
<text x="218.80" y="319.00" font-size="9.7" font-style="italic" text-anchor="start" fill="#1a1a1a" stroke="#1a1a1a" stroke-width="0.2">P</text>
<text x="228.20" y="319.00" font-size="9.7" text-anchor="start" fill="#1a1a1a" stroke="#1a1a1a" stroke-width="0.2">=</text>
<text x="238.20" y="319.00" font-size="9.7" text-anchor="start" fill="#1a1a1a" stroke="#1a1a1a" stroke-width="0.2" textLength="13.40" lengthAdjust="spacingAndGlyphs">.12</text>
<path d="M293.50 278.50V177.50H336.50M336.50 177.50V278.50M293.50 278.50H336.50" fill="none" stroke="#a8a8a8" stroke-width="1"/>
<text x="277.87" y="180.40" font-size="6.6" text-anchor="start" fill="#1a1a1a" stroke="#1a1a1a" stroke-width="0.18">10</text>
<text x="285.51" y="178.30" font-size="4.6" text-anchor="start" fill="#1a1a1a" stroke="#1a1a1a" stroke-width="0.12">-2</text>
<text x="277.87" y="200.40" font-size="6.6" text-anchor="start" fill="#1a1a1a" stroke="#1a1a1a" stroke-width="0.18">10</text>
<text x="285.51" y="198.30" font-size="4.6" text-anchor="start" fill="#1a1a1a" stroke="#1a1a1a" stroke-width="0.12">-3</text>
<text x="277.87" y="220.40" font-size="6.6" text-anchor="start" fill="#1a1a1a" stroke="#1a1a1a" stroke-width="0.18">10</text>
<text x="285.51" y="218.30" font-size="4.6" text-anchor="start" fill="#1a1a1a" stroke="#1a1a1a" stroke-width="0.12">-4</text>
<text x="277.87" y="240.40" font-size="6.6" text-anchor="start" fill="#1a1a1a" stroke="#1a1a1a" stroke-width="0.18">10</text>
<text x="285.51" y="238.30" font-size="4.6" text-anchor="start" fill="#1a1a1a" stroke="#1a1a1a" stroke-width="0.12">-5</text>
<text x="277.87" y="260.40" font-size="6.6" text-anchor="start" fill="#1a1a1a" stroke="#1a1a1a" stroke-width="0.18">10</text>
<text x="285.51" y="258.30" font-size="4.6" text-anchor="start" fill="#1a1a1a" stroke="#1a1a1a" stroke-width="0.12">-6</text>
<text x="277.87" y="280.40" font-size="6.6" text-anchor="start" fill="#1a1a1a" stroke="#1a1a1a" stroke-width="0.18">10</text>
<text x="285.51" y="278.30" font-size="4.6" text-anchor="start" fill="#1a1a1a" stroke="#1a1a1a" stroke-width="0.12">-7</text>
<path d="M305.50 278.50v2" stroke="#a8a8a8" stroke-width="0.8"/>
<path d="M324.50 278.50v2" stroke="#a8a8a8" stroke-width="0.8"/>
<path d="M305.50 199.60V206.50M305.50 246.50V260.60" stroke="#999999" stroke-width="0.75"/>
<rect x="299.50" y="206.50" width="12.00" height="40.00" fill="#fff" stroke="#777777" stroke-width="0.9"/>
<path d="M299.50 219.50H311.50" stroke="#777777" stroke-width="0.9"/>
<rect x="304.50" y="198.60" width="2.0" height="2.0" fill="#000"/>
<rect x="304.50" y="259.60" width="2.0" height="2.0" fill="#000"/>
<path d="M324.50 195.00V201.00M324.50 218.00V224.70" stroke="#999999" stroke-width="0.75"/>
<rect x="319.00" y="201.00" width="11.70" height="17.00" fill="#000"/>
<rect x="323.50" y="194.00" width="2.0" height="2.0" fill="#000"/>
<rect x="323.50" y="223.70" width="2.0" height="2.0" fill="#000"/>
<text x="298.80" y="291.00" font-size="7.6" text-anchor="start" fill="#1a1a1a" stroke="#1a1a1a" stroke-width="0.3" textLength="10.50" lengthAdjust="spacingAndGlyphs">RT</text>
<text x="319.50" y="291.00" font-size="7.6" text-anchor="start" fill="#1a1a1a" stroke="#1a1a1a" stroke-width="0.3" textLength="10.20" lengthAdjust="spacingAndGlyphs">ET</text>
<text x="292.90" y="307.70" font-size="9.7" font-style="italic" text-anchor="start" fill="#1a1a1a" stroke="#1a1a1a" stroke-width="0.2" textLength="44.40" lengthAdjust="spacingAndGlyphs">LAPTM4B</text>
<text x="298.00" y="319.00" font-size="9.7" font-style="italic" text-anchor="start" fill="#1a1a1a" stroke="#1a1a1a" stroke-width="0.2">P</text>
<text x="307.30" y="319.00" font-size="9.7" text-anchor="start" fill="#1a1a1a" stroke="#1a1a1a" stroke-width="0.2">=</text>
<text x="317.70" y="319.00" font-size="9.7" text-anchor="start" fill="#1a1a1a" stroke="#1a1a1a" stroke-width="0.2" textLength="13.90" lengthAdjust="spacingAndGlyphs">.10</text>
<path d="M367.50 278.50V177.50H410.30M407.50 177.50V278.50M367.50 278.50H410.30" fill="none" stroke="#a8a8a8" stroke-width="1"/>
<text x="351.47" y="180.40" font-size="6.6" text-anchor="start" fill="#1a1a1a" stroke="#1a1a1a" stroke-width="0.18">10</text>
<text x="359.11" y="178.30" font-size="4.6" text-anchor="start" fill="#1a1a1a" stroke="#1a1a1a" stroke-width="0.12">-3</text>
<text x="351.47" y="230.40" font-size="6.6" text-anchor="start" fill="#1a1a1a" stroke="#1a1a1a" stroke-width="0.18">10</text>
<text x="359.11" y="228.30" font-size="4.6" text-anchor="start" fill="#1a1a1a" stroke="#1a1a1a" stroke-width="0.12">-4</text>
<text x="351.47" y="280.40" font-size="6.6" text-anchor="start" fill="#1a1a1a" stroke="#1a1a1a" stroke-width="0.18">10</text>
<text x="359.11" y="278.30" font-size="4.6" text-anchor="start" fill="#1a1a1a" stroke="#1a1a1a" stroke-width="0.12">-5</text>
<path d="M379.50 278.50v2" stroke="#a8a8a8" stroke-width="0.8"/>
<path d="M398.50 278.50v2" stroke="#a8a8a8" stroke-width="0.8"/>
<path d="M379.50 201.00V221.50M379.50 238.50V251.00" stroke="#999999" stroke-width="0.75"/>
<rect x="373.50" y="221.50" width="12.00" height="17.00" fill="#fff" stroke="#777777" stroke-width="0.9"/>
<path d="M373.50 234.50H385.50" stroke="#777777" stroke-width="0.9"/>
<rect x="378.50" y="200.00" width="2.0" height="2.0" fill="#000"/>
<rect x="378.50" y="250.00" width="2.0" height="2.0" fill="#000"/>
<path d="M398.50 183.00V200.00M398.50 220.60V241.40" stroke="#999999" stroke-width="0.75"/>
<rect x="392.40" y="200.00" width="12.00" height="20.60" fill="#000"/>
<rect x="397.50" y="182.00" width="2.0" height="2.0" fill="#000"/>
<rect x="397.50" y="240.40" width="2.0" height="2.0" fill="#000"/>
<text x="372.70" y="291.00" font-size="7.6" text-anchor="start" fill="#1a1a1a" stroke="#1a1a1a" stroke-width="0.3" textLength="10.10" lengthAdjust="spacingAndGlyphs">RT</text>
<text x="393.20" y="291.00" font-size="7.6" text-anchor="start" fill="#1a1a1a" stroke="#1a1a1a" stroke-width="0.3" textLength="9.90" lengthAdjust="spacingAndGlyphs">ET</text>
<text x="366.50" y="307.70" font-size="9.7" font-style="italic" text-anchor="start" fill="#1a1a1a" stroke="#1a1a1a" stroke-width="0.2" textLength="54.10" lengthAdjust="spacingAndGlyphs">HIST1H2AG</text>
<text x="376.20" y="319.00" font-size="9.7" font-style="italic" text-anchor="start" fill="#1a1a1a" stroke="#1a1a1a" stroke-width="0.2">P</text>
<text x="385.20" y="319.00" font-size="9.7" text-anchor="start" fill="#1a1a1a" stroke="#1a1a1a" stroke-width="0.2">=</text>
<text x="395.90" y="319.00" font-size="9.7" text-anchor="start" fill="#1a1a1a" stroke="#1a1a1a" stroke-width="0.2" textLength="13.60" lengthAdjust="spacingAndGlyphs">.14</text>
<text x="2.00" y="16.10" font-size="20.0" font-weight="bold" text-anchor="start" fill="#000" stroke="#000" stroke-width="0.12">A</text>
<g transform="translate(29.0 243.77) rotate(-90)" font-size="10.9" fill="#1a1a1a" stroke="#1a1a1a" stroke-width="0.2"><text x="0" y="0">Relative Transcript Abundance (log</text><text x="170.25" y="2.3">10</text><text x="182.37" y="0">)</text></g>
<text x="1.00" y="356.20" font-size="19.0" font-weight="bold" text-anchor="start" fill="#000" stroke="#000" stroke-width="0.12">B</text>
<rect x="56.3" y="342.9" width="242.20" height="221.30" fill="none" stroke="#666666" stroke-width="1.4"/>
<rect x="303.0" y="342.9" width="173.40" height="221.30" fill="none" stroke="#666666" stroke-width="1.4"/>
<path d="M56.3 453.3H298.5M303.0 453.3H476.4" stroke="#333" stroke-width="1"/>
<path d="M51.30 553.75H56.3M476.4 553.75h4.6" stroke="#666666" stroke-width="1.1"/>
<text x="47.60" y="557.35" font-size="10" text-anchor="end" fill="#1a1a1a" stroke="#1a1a1a" stroke-width="0.3">0.0</text>
<text x="486.00" y="557.35" font-size="10" text-anchor="start" fill="#1a1a1a" stroke="#1a1a1a" stroke-width="0.3">1.0</text>
<path d="M51.30 533.70H56.3M476.4 533.70h4.6" stroke="#666666" stroke-width="1.1"/>
<text x="47.60" y="537.30" font-size="10" text-anchor="end" fill="#1a1a1a" stroke="#1a1a1a" stroke-width="0.3">0.1</text>
<text x="486.00" y="537.30" font-size="10" text-anchor="start" fill="#1a1a1a" stroke="#1a1a1a" stroke-width="0.3">0.9</text>
<path d="M51.30 513.65H56.3M476.4 513.65h4.6" stroke="#666666" stroke-width="1.1"/>
<text x="47.60" y="517.25" font-size="10" text-anchor="end" fill="#1a1a1a" stroke="#1a1a1a" stroke-width="0.3">0.2</text>
<text x="486.00" y="517.25" font-size="10" text-anchor="start" fill="#1a1a1a" stroke="#1a1a1a" stroke-width="0.3">0.8</text>
<path d="M51.30 493.60H56.3M476.4 493.60h4.6" stroke="#666666" stroke-width="1.1"/>
<text x="47.60" y="497.20" font-size="10" text-anchor="end" fill="#1a1a1a" stroke="#1a1a1a" stroke-width="0.3">0.3</text>
<text x="486.00" y="497.20" font-size="10" text-anchor="start" fill="#1a1a1a" stroke="#1a1a1a" stroke-width="0.3">0.7</text>
<path d="M51.30 473.55H56.3M476.4 473.55h4.6" stroke="#666666" stroke-width="1.1"/>
<text x="47.60" y="477.15" font-size="10" text-anchor="end" fill="#1a1a1a" stroke="#1a1a1a" stroke-width="0.3">0.4</text>
<text x="486.00" y="477.15" font-size="10" text-anchor="start" fill="#1a1a1a" stroke="#1a1a1a" stroke-width="0.3">0.6</text>
<path d="M51.30 453.50H56.3M476.4 453.50h4.6" stroke="#666666" stroke-width="1.1"/>
<text x="47.60" y="457.10" font-size="10" text-anchor="end" fill="#1a1a1a" stroke="#1a1a1a" stroke-width="0.3">0.5</text>
<text x="486.00" y="457.10" font-size="10" text-anchor="start" fill="#1a1a1a" stroke="#1a1a1a" stroke-width="0.3">0.5</text>
<path d="M51.30 433.45H56.3M476.4 433.45h4.6" stroke="#666666" stroke-width="1.1"/>
<text x="47.60" y="437.05" font-size="10" text-anchor="end" fill="#1a1a1a" stroke="#1a1a1a" stroke-width="0.3">0.6</text>
<text x="486.00" y="437.05" font-size="10" text-anchor="start" fill="#1a1a1a" stroke="#1a1a1a" stroke-width="0.3">0.4</text>
<path d="M51.30 413.40H56.3M476.4 413.40h4.6" stroke="#666666" stroke-width="1.1"/>
<text x="47.60" y="417.00" font-size="10" text-anchor="end" fill="#1a1a1a" stroke="#1a1a1a" stroke-width="0.3">0.7</text>
<text x="486.00" y="417.00" font-size="10" text-anchor="start" fill="#1a1a1a" stroke="#1a1a1a" stroke-width="0.3">0.3</text>
<path d="M51.30 393.35H56.3M476.4 393.35h4.6" stroke="#666666" stroke-width="1.1"/>
<text x="47.60" y="396.95" font-size="10" text-anchor="end" fill="#1a1a1a" stroke="#1a1a1a" stroke-width="0.3">0.8</text>
<text x="486.00" y="396.95" font-size="10" text-anchor="start" fill="#1a1a1a" stroke="#1a1a1a" stroke-width="0.3">0.2</text>
<path d="M51.30 373.30H56.3M476.4 373.30h4.6" stroke="#666666" stroke-width="1.1"/>
<text x="47.60" y="376.90" font-size="10" text-anchor="end" fill="#1a1a1a" stroke="#1a1a1a" stroke-width="0.3">0.9</text>
<text x="486.00" y="376.90" font-size="10" text-anchor="start" fill="#1a1a1a" stroke="#1a1a1a" stroke-width="0.3">0.1</text>
<path d="M51.30 353.25H56.3M476.4 353.25h4.6" stroke="#666666" stroke-width="1.1"/>
<text x="47.60" y="356.85" font-size="10" text-anchor="end" fill="#1a1a1a" stroke="#1a1a1a" stroke-width="0.3">1.0</text>
<text x="486.00" y="356.85" font-size="10" text-anchor="start" fill="#1a1a1a" stroke="#1a1a1a" stroke-width="0.3">0.0</text>
<path d="M56.50 564.2v3.2" stroke="#666666" stroke-width="1.1"/>
<text x="56.50" y="581.30" font-size="10" text-anchor="middle" fill="#1a1a1a" stroke="#1a1a1a" stroke-width="0.3">0</text>
<path d="M106.75 564.2v3.2" stroke="#666666" stroke-width="1.1"/>
<text x="106.75" y="581.30" font-size="10" text-anchor="middle" fill="#1a1a1a" stroke="#1a1a1a" stroke-width="0.3">10</text>
<path d="M157.00 564.2v3.2" stroke="#666666" stroke-width="1.1"/>
<text x="157.00" y="581.30" font-size="10" text-anchor="middle" fill="#1a1a1a" stroke="#1a1a1a" stroke-width="0.3">20</text>
<path d="M207.25 564.2v3.2" stroke="#666666" stroke-width="1.1"/>
<text x="207.25" y="581.30" font-size="10" text-anchor="middle" fill="#1a1a1a" stroke="#1a1a1a" stroke-width="0.3">30</text>
<path d="M257.50 564.2v3.2" stroke="#666666" stroke-width="1.1"/>
<text x="257.50" y="581.30" font-size="10" text-anchor="middle" fill="#1a1a1a" stroke="#1a1a1a" stroke-width="0.3">40</text>
<path d="M303.25 564.2v3.2" stroke="#666666" stroke-width="1.1"/>
<text x="303.25" y="581.30" font-size="10" text-anchor="middle" fill="#1a1a1a" stroke="#1a1a1a" stroke-width="0.3">0</text>
<path d="M329.50 564.2v3.2" stroke="#666666" stroke-width="1.1"/>
<text x="329.50" y="581.30" font-size="10" text-anchor="middle" fill="#1a1a1a" stroke="#1a1a1a" stroke-width="0.3">5</text>
<path d="M355.75 564.2v3.2" stroke="#666666" stroke-width="1.1"/>
<text x="355.75" y="581.30" font-size="10" text-anchor="middle" fill="#1a1a1a" stroke="#1a1a1a" stroke-width="0.3">10</text>
<path d="M382.00 564.2v3.2" stroke="#666666" stroke-width="1.1"/>
<text x="382.00" y="581.30" font-size="10" text-anchor="middle" fill="#1a1a1a" stroke="#1a1a1a" stroke-width="0.3">15</text>
<path d="M408.25 564.2v3.2" stroke="#666666" stroke-width="1.1"/>
<text x="408.25" y="581.30" font-size="10" text-anchor="middle" fill="#1a1a1a" stroke="#1a1a1a" stroke-width="0.3">20</text>
<path d="M434.50 564.2v3.2" stroke="#666666" stroke-width="1.1"/>
<text x="434.50" y="581.30" font-size="10" text-anchor="middle" fill="#1a1a1a" stroke="#1a1a1a" stroke-width="0.3">25</text>
<path d="M460.75 564.2v3.2" stroke="#666666" stroke-width="1.1"/>
<text x="460.75" y="581.30" font-size="10" text-anchor="middle" fill="#1a1a1a" stroke="#1a1a1a" stroke-width="0.3">30</text>
<text x="133.60" y="596.00" font-size="10.9" text-anchor="start" fill="#1a1a1a" stroke="#1a1a1a" stroke-width="0.25" textLength="88.60" lengthAdjust="spacingAndGlyphs">Subject (Cohort 1)</text>
<text x="346.60" y="596.00" font-size="10.9" text-anchor="start" fill="#1a1a1a" stroke="#1a1a1a" stroke-width="0.25" textLength="88.60" lengthAdjust="spacingAndGlyphs">Subject (Cohort 2)</text>
<text transform="translate(24.0 510.70) rotate(-90)" font-size="10.9" fill="#1a1a1a" stroke="#1a1a1a" stroke-width="0.25">ET Posterior Probability</text>
<text transform="translate(514.8 506.00) rotate(-90)" font-size="10.9" fill="#1a1a1a" stroke="#1a1a1a" stroke-width="0.25">RT Posterior Probability</text>
<circle cx="181.7" cy="553.4" r="2.6" fill="#fff" stroke="#222" stroke-width="1.05"/>
<circle cx="186.75" cy="383" r="2.6" fill="#fff" stroke="#222" stroke-width="1.05"/>
<circle cx="192.1" cy="464" r="2.6" fill="#fff" stroke="#222" stroke-width="1.05"/>
<circle cx="196.9" cy="553.5" r="2.6" fill="#fff" stroke="#222" stroke-width="1.05"/>
<circle cx="202" cy="553.5" r="2.6" fill="#fff" stroke="#222" stroke-width="1.05"/>
<circle cx="207.3" cy="510.9" r="2.6" fill="#fff" stroke="#222" stroke-width="1.05"/>
<circle cx="212.2" cy="510.9" r="2.6" fill="#fff" stroke="#222" stroke-width="1.05"/>
<circle cx="217" cy="421.75" r="2.6" fill="#fff" stroke="#222" stroke-width="1.05"/>
<circle cx="222.2" cy="489.5" r="2.6" fill="#fff" stroke="#222" stroke-width="1.05"/>
<circle cx="227" cy="553.5" r="2.6" fill="#fff" stroke="#222" stroke-width="1.05"/>
<circle cx="237.9" cy="505.3" r="2.6" fill="#fff" stroke="#222" stroke-width="1.05"/>
<circle cx="241.9" cy="510.6" r="2.6" fill="#fff" stroke="#222" stroke-width="1.05"/>
<circle cx="247.25" cy="500.7" r="2.6" fill="#fff" stroke="#222" stroke-width="1.05"/>
<circle cx="252.6" cy="486.6" r="2.6" fill="#fff" stroke="#222" stroke-width="1.05"/>
<circle cx="257.1" cy="504.5" r="2.6" fill="#fff" stroke="#222" stroke-width="1.05"/>
<circle cx="262.4" cy="502.6" r="2.6" fill="#fff" stroke="#222" stroke-width="1.05"/>
<circle cx="267.5" cy="490.1" r="2.6" fill="#fff" stroke="#222" stroke-width="1.05"/>
<circle cx="272.3" cy="509" r="2.6" fill="#fff" stroke="#222" stroke-width="1.05"/>
<circle cx="277.4" cy="553.5" r="2.6" fill="#fff" stroke="#222" stroke-width="1.05"/>
<circle cx="282.4" cy="534.3" r="2.6" fill="#fff" stroke="#222" stroke-width="1.05"/>
<circle cx="287.5" cy="532.7" r="2.6" fill="#fff" stroke="#222" stroke-width="1.05"/>
<circle cx="392.5" cy="496.75" r="2.6" fill="#fff" stroke="#222" stroke-width="1.05"/>
<circle cx="398" cy="497.75" r="2.6" fill="#fff" stroke="#222" stroke-width="1.05"/>
<circle cx="403" cy="472.3" r="2.6" fill="#fff" stroke="#222" stroke-width="1.05"/>
<circle cx="408" cy="357.3" r="2.6" fill="#fff" stroke="#222" stroke-width="1.05"/>
<circle cx="413.4" cy="490.75" r="2.6" fill="#fff" stroke="#222" stroke-width="1.05"/>
<circle cx="418.75" cy="479.25" r="2.6" fill="#fff" stroke="#222" stroke-width="1.05"/>
<circle cx="423.75" cy="491.75" r="2.6" fill="#fff" stroke="#222" stroke-width="1.05"/>
<circle cx="429.3" cy="405" r="2.6" fill="#fff" stroke="#222" stroke-width="1.05"/>
<circle cx="434.5" cy="509" r="2.6" fill="#fff" stroke="#222" stroke-width="1.05"/>
<circle cx="439.7" cy="395.3" r="2.6" fill="#fff" stroke="#222" stroke-width="1.05"/>
<circle cx="445" cy="509" r="2.6" fill="#fff" stroke="#222" stroke-width="1.05"/>
<circle cx="450.25" cy="546.25" r="2.6" fill="#fff" stroke="#222" stroke-width="1.05"/>
<circle cx="455.75" cy="549.25" r="2.6" fill="#fff" stroke="#222" stroke-width="1.05"/>
<circle cx="460.75" cy="507.75" r="2.6" fill="#fff" stroke="#222" stroke-width="1.05"/>
<circle cx="466" cy="517.75" r="2.6" fill="#fff" stroke="#222" stroke-width="1.05"/>
<circle cx="61" cy="393" r="2.75" fill="#000"/>
<circle cx="66.25" cy="402" r="2.75" fill="#000"/>
<circle cx="71.25" cy="453.4" r="2.75" fill="#000"/>
<circle cx="76.3" cy="451.7" r="2.75" fill="#000"/>
<circle cx="81.25" cy="353.7" r="2.75" fill="#000"/>
<circle cx="86.5" cy="386" r="2.75" fill="#000"/>
<circle cx="91.4" cy="355.4" r="2.75" fill="#000"/>
<circle cx="96.4" cy="459.1" r="2.75" fill="#000"/>
<circle cx="101.6" cy="416.8" r="2.75" fill="#000"/>
<circle cx="106.5" cy="353.25" r="2.75" fill="#000"/>
<circle cx="111.5" cy="386" r="2.75" fill="#000"/>
<circle cx="116.5" cy="383" r="2.75" fill="#000"/>
<circle cx="121.7" cy="525.8" r="2.75" fill="#000"/>
<circle cx="126.75" cy="357.5" r="2.75" fill="#000"/>
<circle cx="131.5" cy="441.7" r="2.75" fill="#000"/>
<circle cx="136.75" cy="392.25" r="2.75" fill="#000"/>
<circle cx="141.75" cy="353" r="2.75" fill="#000"/>
<circle cx="146.75" cy="435.5" r="2.75" fill="#000"/>
<circle cx="151.5" cy="355.75" r="2.75" fill="#000"/>
<circle cx="156.8" cy="538.7" r="2.75" fill="#000"/>
<circle cx="161.75" cy="434.25" r="2.75" fill="#000"/>
<circle cx="166.75" cy="425.25" r="2.75" fill="#000"/>
<circle cx="171.7" cy="530" r="2.75" fill="#000"/>
<circle cx="177" cy="381.5" r="2.75" fill="#000"/>
<circle cx="308.5" cy="353.15" r="2.75" fill="#000"/>
<circle cx="313.85" cy="358.5" r="2.75" fill="#000"/>
<circle cx="319.15" cy="428.2" r="2.75" fill="#000"/>
<circle cx="324.2" cy="353.15" r="2.75" fill="#000"/>
<circle cx="329.5" cy="438.1" r="2.75" fill="#000"/>
<circle cx="334.6" cy="451.2" r="2.75" fill="#000"/>
<circle cx="340" cy="503" r="2.75" fill="#000"/>
<circle cx="345.2" cy="408.5" r="2.75" fill="#000"/>
<circle cx="350.8" cy="359.8" r="2.75" fill="#000"/>
<circle cx="355.6" cy="420.8" r="2.75" fill="#000"/>
<circle cx="360.9" cy="353.15" r="2.75" fill="#000"/>
<circle cx="366.2" cy="353.15" r="2.75" fill="#000"/>
<circle cx="371.5" cy="427" r="2.75" fill="#000"/>
<circle cx="376.85" cy="382.9" r="2.75" fill="#000"/>
<circle cx="381.9" cy="376.2" r="2.75" fill="#000"/>
<circle cx="387.2" cy="356.6" r="2.75" fill="#000"/>
<path d="M63.20 388.5h4.6M65.5 386.30v4.4" stroke="#222" stroke-width="1.05"/>
<path d="M78.20 446.5h4.6M80.5 444.30v4.4" stroke="#222" stroke-width="1.05"/>
<path d="M82.20 348.5h4.6M84.5 346.30v4.4" stroke="#222" stroke-width="1.05"/>
<path d="M89.20 381.5h4.6M91.5 379.30v4.4" stroke="#222" stroke-width="1.05"/>
<path d="M105.20 381.5h4.6M107.5 379.30v4.4" stroke="#222" stroke-width="1.05"/>
<path d="M119.20 378.5h4.6M121.5 376.30v4.4" stroke="#222" stroke-width="1.05"/>
<path d="M133.20 437.5h4.6M135.5 435.30v4.4" stroke="#222" stroke-width="1.05"/>
<path d="M143.20 348.5h4.6M145.5 346.30v4.4" stroke="#222" stroke-width="1.05"/>
<path d="M148.20 430.5h4.6M150.5 428.30v4.4" stroke="#222" stroke-width="1.05"/>
<path d="M154.20 351.5h4.6M156.5 349.30v4.4" stroke="#222" stroke-width="1.05"/>
<path d="M174.20 524.5h4.6M176.5 522.30v4.4" stroke="#222" stroke-width="1.05"/>
<path d="M304.20 346.5h4.6M306.5 344.30v4.4" stroke="#222" stroke-width="1.05"/>
<path d="M314.20 353.5h4.6M316.5 351.30v4.4" stroke="#222" stroke-width="1.05"/>
<path d="M319.20 422.5h4.6M321.5 420.30v4.4" stroke="#222" stroke-width="1.05"/>
<path d="M331.20 432.5h4.6M333.5 430.30v4.4" stroke="#222" stroke-width="1.05"/>
<path d="M336.20 446.5h4.6M338.5 444.30v4.4" stroke="#222" stroke-width="1.05"/>
<path d="M341.20 497.5h4.6M343.5 495.30v4.4" stroke="#222" stroke-width="1.05"/>
<path d="M347.20 404.5h4.6M349.5 402.30v4.4" stroke="#222" stroke-width="1.05"/>
<path d="M355.20 348.5h4.6M357.5 346.30v4.4" stroke="#222" stroke-width="1.05"/>
<path d="M367.20 347.5h4.6M369.5 345.30v4.4" stroke="#222" stroke-width="1.05"/>
<path d="M373.20 421.5h4.6M375.5 419.30v4.4" stroke="#222" stroke-width="1.05"/>
<path d="M371.20 377.5h4.6M373.5 375.30v4.4" stroke="#222" stroke-width="1.05"/>
<path d="M383.20 370.5h4.6M385.5 368.30v4.4" stroke="#222" stroke-width="1.05"/>
<path d="M389.20 352.5h4.6M391.5 350.30v4.4" stroke="#222" stroke-width="1.05"/>
<path d="M116.7 408.40L123.60 415.3L116.7 422.20L109.80 415.3Z" fill="#000"/><path d="M114.20 415.3h5M116.7 412.80v5" stroke="#fff" stroke-width="1.4"/>
<path d="M232.1 498.60L239.00 505.5L232.1 512.40L225.20 505.5Z" fill="#000"/><path d="M229.60 505.5h5M232.1 503.00v5" stroke="#fff" stroke-width="1.4"/>
<path d="M345.2 388.50L352.10 395.4L345.2 402.30L338.30 395.4Z" fill="#000"/><path d="M342.70 395.4h5M345.2 392.90v5" stroke="#fff" stroke-width="1.4"/>
<path d="M427 474.85L433.90 481.75L427 488.65L420.10 481.75Z" fill="#000"/><path d="M424.50 481.75h5M427 479.25v5" stroke="#fff" stroke-width="1.4"/>
<rect x="194.9" y="345.9" width="101.6" height="48.2" fill="#fff" stroke="#555" stroke-width="1.2"/>
<circle cx="213.1" cy="357.7" r="2.6" fill="#fff" stroke="#222" stroke-width="1.05"/>
<circle cx="213.1" cy="369.5" r="2.75" fill="#000"/>
<path d="M213.3 375.25L220.05 382.0L213.3 388.75L206.55 382.0Z" fill="#000"/><path d="M210.80 382.0h5M213.3 379.50v5" stroke="#fff" stroke-width="1.4"/>
<text x="229.50" y="360.90" font-size="10" text-anchor="start" fill="#1a1a1a" stroke="#1a1a1a" stroke-width="0.25">RT</text>
<text x="229.50" y="372.80" font-size="10" text-anchor="start" fill="#1a1a1a" stroke="#1a1a1a" stroke-width="0.25">ET</text>
<text x="229.50" y="385.10" font-size="10" text-anchor="start" fill="#1a1a1a" stroke="#1a1a1a" stroke-width="0.25" textLength="60.00" lengthAdjust="spacingAndGlyphs">Group Means</text>
</svg>
</body></html>
